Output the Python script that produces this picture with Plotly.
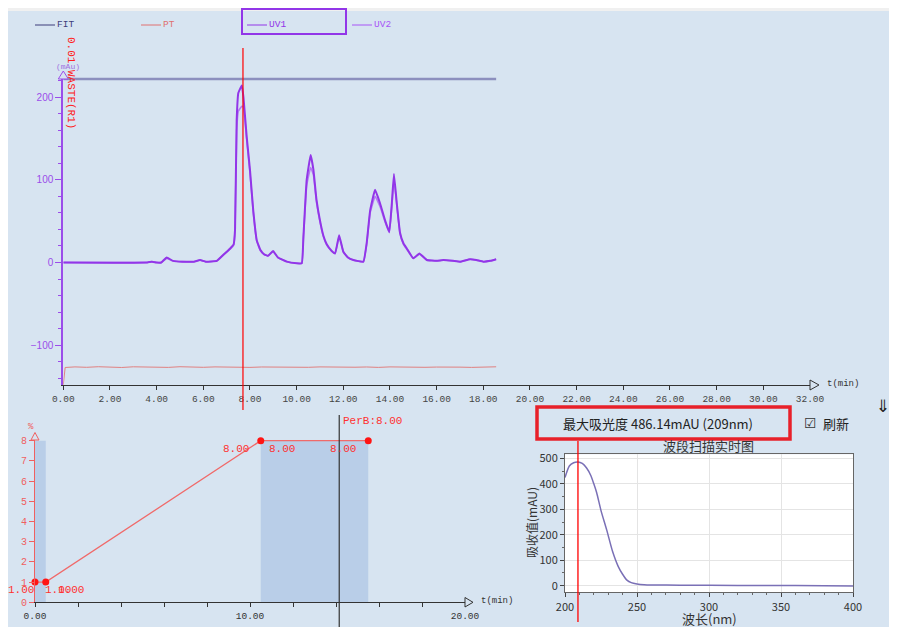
import plotly.graph_objects as go

W, H = 897, 627
OFF = 8  # the page puts the plot 8px in from the top-left corner
FW, FH = W - OFF, H - OFF
BG = '#d7e4f1'
MONO = 'Liberation Mono'
CJK = 'Noto Sans CJK SC'

# ---- chromatogram (top) ----
uv_t = [0.0, 3.6, 3.8, 4.0, 4.2, 4.43, 4.7, 5.1, 5.6, 5.86, 6.1, 6.58, 6.85, 7.15, 7.3, 7.36,
        7.43, 7.5, 7.65, 7.72, 7.86, 8.0, 8.14, 8.29, 8.45, 8.6, 8.77, 8.99, 9.2, 9.58, 10.0,
        10.22, 10.29, 10.43, 10.6, 10.72, 10.85, 11.0, 11.15, 11.29, 11.5, 11.65, 11.82, 12.0,
        12.2, 12.43, 12.86, 13.0, 13.15, 13.36, 13.57, 13.79, 13.97, 14.08, 14.17, 14.29, 14.43,
        14.58, 14.72, 15.0, 15.26, 15.58, 16.0, 16.29, 16.7, 17.0, 17.43, 17.7, 18.0, 18.3, 18.55]
uv1 = [0, 0, 1, 0, 0, 6, 2, 1, 1, 3, 1, 2, 9, 17, 22, 40,
       172, 205, 214, 200, 152, 112, 63, 27, 15, 10, 8, 14, 6, 1, -1,
       -1, 31, 100, 130, 112, 76, 51, 32, 22, 14, 11, 33, 13,
       6, 3, 1, 23, 63, 88, 72, 51, 37, 72, 107, 72, 36,
       23, 17, 5, 11, 3, 2, 3, 2, 1, 4, 3, 1, 2, 4]
uv2 = [0, 0, 1, 0, 0, 5, 2, 1, 1, 3, 1, 2, 9, 16, 21, 38,
       160, 183, 189, 188, 148, 108, 61, 26, 14, 10, 8, 13, 6, 1, -1,
       -1, 29, 93, 115, 106, 73, 49, 31, 21, 14, 11, 31, 13,
       6, 3, 1, 22, 60, 80, 68, 49, 36, 68, 100, 70, 35,
       22, 16, 5, 10, 3, 2, 3, 2, 1, 4, 3, 1, 2, 4]
pt_t = [0, 0.08, 0.5, 1.0, 1.5, 2.0, 2.5, 3.0, 3.5, 4.0, 4.5, 5.0, 5.5, 6.0, 6.5, 7.0, 7.5, 8.0,
        8.5, 9.0, 9.5, 10.0, 10.5, 11.0, 11.5, 12.0, 12.5, 13.0, 13.5, 14.0, 14.5, 15.0, 15.5,
        16.0, 16.5, 17.0, 17.5, 18.0, 18.55]
pt_v = [-148, -127, -126.3, -126.8, -126.1, -126.6, -127.0, -126.2, -126.7, -126.4, -126.9,
        -126.1, -126.5, -126.8, -126.3, -126.6, -126.2, -126.9, -126.4, -126.7, -126.1, -126.5,
        -126.8, -126.3, -126.6, -126.2, -126.7, -126.4, -126.9, -126.3, -126.6, -126.2, -126.8,
        -126.5, -126.1, -126.6, -126.9, -126.4, -126.2]
fit_t = [0, 18.55]
fit_v = [222, 222]
cursor_t = 7.7
main_xticks = list(range(0, 33, 2))

# ---- gradient (bottom left) ----
grad_t = [0, 0.5, 10.5, 15.5]
grad_b = [1, 1, 8, 8]
hold_start = [0, 10.5]
hold_end = [0.5, 15.5]
hold_level = 8
grad_cursor = 14.15
perb_now = 8.00

# ---- spectrum (bottom right) ----
wl = [200, 203, 206, 209, 212, 215, 218, 220, 222, 225, 229, 233, 237, 240, 243, 246, 250,
      255, 260, 280, 320, 360, 400]
absorb = [425, 470, 483, 486, 480, 462, 432, 400, 365, 295, 218, 135, 75, 45, 22, 12, 7,
          4, 3, 2, 1, 1, -1]
max_abs = 486.14
max_wl = 209


def px(x):
    return (x - OFF) / FW


def py(y):
    return 1 - (y - OFF) / FH


def tri(pts):
    p = ' L '.join(f'{px(a):.5f},{py(b):.5f}' for a, b in pts)
    return f'M {p} Z'


def note(x, y, text, size, color, family=MONO, xanchor='center', **kw):
    fig.add_annotation(x=px(x), y=py(y), xref='paper', yref='paper', text=text, showarrow=False,
                       xanchor=xanchor, yanchor='middle', font=dict(family=family, size=size, color=color), **kw)


fig = go.Figure()

# chromatogram traces
fig.add_trace(go.Scatter(x=fit_t, y=fit_v, mode='lines', line=dict(color='#8c8fbe', width=2.5),
                         showlegend=False, hoverinfo='skip'))
fig.add_trace(go.Scatter(x=pt_t, y=pt_v, mode='lines', line=dict(color='#e08080', width=1),
                         showlegend=False))
fig.add_trace(go.Scatter(x=uv_t, y=uv2, mode='lines', line=dict(color='#b57af2', width=1.6, shape='spline', smoothing=0.3),
                         showlegend=False))
fig.add_trace(go.Scatter(x=uv_t, y=uv1, mode='lines', line=dict(color='#9236e8', width=2, shape='spline', smoothing=0.3),
                         showlegend=False))

# gradient
for s, e in zip(hold_start, hold_end):
    fig.add_shape(type='rect', xref='x2', yref='y2', x0=s, x1=e, y0=0, y1=hold_level,
                  fillcolor='#b9cee8', line_width=0, layer='below')
fig.add_trace(go.Scatter(x=grad_t, y=grad_b, xaxis='x2', yaxis='y2', mode='lines+markers',
                         line=dict(color='#f06a6a', width=1.3), marker=dict(color='#ff1414', size=7),
                         cliponaxis=False, showlegend=False))

# spectrum
fig.add_shape(type='rect', xref='x3 domain', yref='y3 domain', x0=0, x1=1, y0=0, y1=1,
              fillcolor='white', line_width=0, layer='below')
fig.add_trace(go.Scatter(x=wl, y=absorb, xaxis='x3', yaxis='y3', mode='lines',
                         line=dict(color='#7a70b6', width=1.5, shape='spline', smoothing=0.6),
                         showlegend=False))

# cursors
fig.add_shape(type='line', xref='x', yref='paper', x0=cursor_t, x1=cursor_t, y0=py(410), y1=py(48),
              line=dict(color='#ff0000', width=1.2))
fig.add_shape(type='line', xref='x2', yref='paper', x0=grad_cursor, x1=grad_cursor, y0=0, y1=py(415),
              line=dict(color='#333333', width=1.2))
fig.add_shape(type='line', xref='x3', yref='paper', x0=max_wl, x1=max_wl, y0=py(622), y1=py(441),
              line=dict(color='#ff0000', width=1.3))

# decoration: top strip, axis arrows, legend, boxes
fig.add_shape(type='rect', xref='paper', yref='paper', x0=0, x1=1, y0=py(11), y1=1,
              fillcolor='#f0f0f0', line_width=0)
fig.add_shape(type='path', xref='paper', yref='paper', path=tri([(810, 380), (819, 385), (810, 390)]),
              line=dict(color='#333', width=1), fillcolor=BG)
fig.add_shape(type='path', xref='paper', yref='paper', path=tri([(58.3, 79), (63.3, 71), (68.3, 79)]),
              line=dict(color='#9b4dea', width=1), fillcolor=BG)
fig.add_shape(type='path', xref='paper', yref='paper', path=tri([(31, 440), (35, 432.5), (39, 440)]),
              line=dict(color='#f06060', width=1), fillcolor=BG)
fig.add_shape(type='path', xref='paper', yref='paper', path=tri([(465, 597.5), (473, 602.3), (465, 607)]),
              line=dict(color='#333', width=1), fillcolor=BG)

legend_items = [('FIT', 35, '#3d3d7a'), ('PT', 141, '#e07070'), ('UV1', 247, '#9236e8'), ('UV2', 352, '#a855f7')]
for name, x0, col in legend_items:
    fig.add_shape(type='line', xref='paper', yref='paper', x0=px(x0), x1=px(x0 + 20), y0=py(25), y1=py(25),
                  line=dict(color=col, width=1))
    note(x0 + 20, 25, name, 9.5, col, xanchor='left')
fig.add_shape(type='rect', xref='paper', yref='paper', x0=px(242), x1=px(346), y0=py(34), y1=py(9),
              line=dict(color='#9236e8', width=2))

note(71, 83, '0.01 WASTE(R1)', 11, '#ff2020', textangle=90)
note(68, 66, '(mAu)', 8, '#a070e0')
note(825, 384, 't(min)', 9, '#333', xanchor='left')
note(479, 601, 't(min)', 9, '#333', xanchor='left')
note(31, 427, '%', 9, '#f06060')

# gradient point labels
lab = dict(showarrow=False, xref='x2', yref='y2', yanchor='middle', yshift=-8,
           font=dict(family=MONO, size=11, color='#ff3030'))
fig.add_annotation(x=grad_t[0], y=grad_b[0], text=f'{grad_b[0]:.2f}', xanchor='right', xshift=1, **lab)
fig.add_annotation(x=grad_t[1], y=grad_b[1], text=f'{grad_b[1]:.2f}', xanchor='left', xshift=-3, **lab)
fig.add_annotation(x=grad_t[1], y=grad_b[1], text=f'{grad_b[1]:.2f}', xanchor='left', xshift=10, **lab)
fig.add_annotation(x=grad_t[2], y=grad_b[2], text=f'{grad_b[2]:.2f}', xanchor='right', xshift=-10, **lab)
fig.add_annotation(x=grad_t[2], y=grad_b[2], text=f'{grad_b[2]:.2f}', xanchor='left', xshift=6, **lab)
fig.add_annotation(x=grad_t[3], y=grad_b[3], text=f'{grad_b[3]:.2f}', xanchor='right', xshift=-10, **lab)
fig.add_annotation(x=grad_cursor, y=py(421), xref='x2', yref='paper', text=f'PerB:{perb_now:.2f}',
                   showarrow=False, xanchor='left', yanchor='middle', xshift=2,
                   font=dict(family=MONO, size=11, color='#ff3030'))

# spectrum header
fig.add_shape(type='rect', xref='paper', yref='paper', x0=px(537), x1=px(790), y0=py(439), y1=py(407),
              line=dict(color='#e8202a', width=3.5))
note(658, 423, f'最大吸光度 {max_abs:.2f}mAU ({max_wl}nm)', 13, '#222', family=CJK)
note(810, 423, '☑', 14, '#333', family='DejaVu Sans')
note(836, 423, '刷新', 13, '#222', family=CJK)
note(883, 406, '⇓', 17, '#222', family='DejaVu Sans')
note(708, 445, '波段扫描实时图', 13, '#333', family=CJK)
note(531, 523, '吸收值(mAU)', 12, '#333', family=CJK, textangle=-90)
note(709, 618, '波长(nm)', 13, '#333', family=CJK)

fig.update_layout(
    width=FW, height=FH, autosize=False,
    margin=dict(l=0, r=0, t=0, b=0, pad=0),
    paper_bgcolor=BG, plot_bgcolor=BG,
    showlegend=False,
    xaxis=dict(domain=[px(63.3), px(810)], range=[0, 32], anchor='y', showgrid=False, zeroline=False,
               automargin=False,
               showline=True, linecolor='#333', linewidth=1.2, ticks='outside', ticklen=4, tickcolor='#333',
               tickvals=main_xticks, ticktext=[f'{v:.2f}' for v in main_xticks],
               tickfont=dict(family=MONO, size=9.5, color='#444')),
    yaxis=dict(domain=[py(385), py(77)], range=[-148.2, 224.4], anchor='x', showgrid=False, zeroline=False,
               automargin=False,
               showline=True, linecolor='#9b4dea', linewidth=2, ticks='outside', ticklen=6, tickcolor='#9b4dea',
               tickvals=[-100, 0, 100, 200], minor=dict(ticks='outside', dtick=20, ticklen=3, tickcolor='#9b4dea'),
               tickfont=dict(family='Liberation Sans', size=10, color='#9b4dea')),
    xaxis2=dict(domain=[px(35), px(465)], range=[0, 20], anchor='y2', showgrid=False, zeroline=False,
                automargin=False,
                showline=True, linecolor='#333', linewidth=1.2, ticks='outside', ticklen=4, tickcolor='#333',
                tickvals=list(range(0, 21, 2)),
                ticktext=[f'{v:.2f}' if v % 10 == 0 else '' for v in range(0, 21, 2)],
                tickfont=dict(family=MONO, size=9.5, color='#333')),
    yaxis2=dict(domain=[py(602.3), py(435)], range=[0, 8.28], anchor='x2', showgrid=False, zeroline=False,
                automargin=False,
                showline=True, linecolor='#f06060', linewidth=1.2, ticks='outside', ticklen=5, tickcolor='#f06060',
                tickvals=list(range(0, 9)), tickfont=dict(family=MONO, size=10, color='#f06060')),
    xaxis3=dict(domain=[px(565), px(853)], range=[200, 400], anchor='y3', showgrid=True, gridcolor='#e4e4e4',
                automargin=False,
                zeroline=False, showline=True, linecolor='#666', mirror=True, ticks='outside', ticklen=4,
                tickcolor='#444', tickvals=[200, 250, 300, 350, 400],
                minor=dict(ticks='outside', dtick=10, ticklen=2, tickcolor='#666', showgrid=False),
                tickfont=dict(family=CJK, size=11, color='#333')),
    yaxis3=dict(domain=[py(592.3), py(454.3)], range=[-26, 516], anchor='x3', showgrid=True, gridcolor='#e4e4e4',
                automargin=False,
                zeroline=False, showline=True, linecolor='#666', mirror=True, ticks='outside', ticklen=4,
                tickcolor='#444', tickvals=[0, 100, 200, 300, 400, 500],
                minor=dict(ticks='outside', dtick=50, ticklen=2, tickcolor='#666', showgrid=False),
                tickfont=dict(family=CJK, size=11, color='#333')),
)

fig.write_html('out.html')
